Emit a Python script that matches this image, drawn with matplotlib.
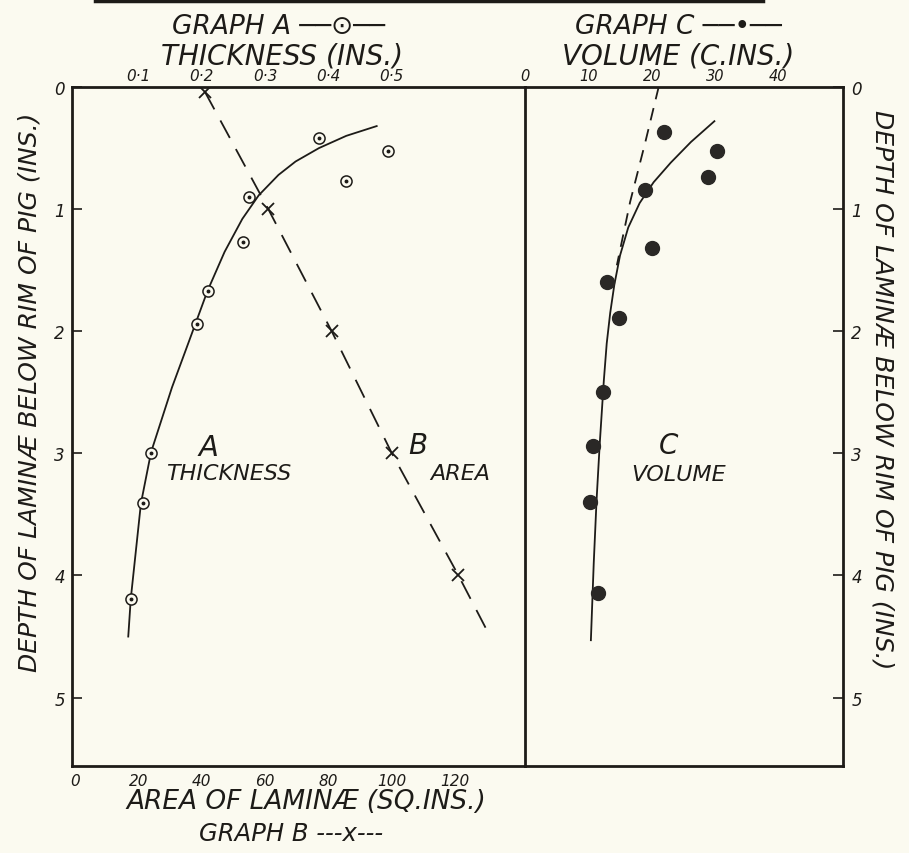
"""
Laminae of a pig: thickness (A), area (B) and volume (C) against depth
below the rim. Redrawn in the style of the original hand-lettered plate.
"""

import matplotlib
matplotlib.use("Agg")

import matplotlib.pyplot as plt
from matplotlib.lines import Line2D

W, H = 909, 854
PAPER = "#fbfaf0"
INK = "#1d1b18"
FONT = {"family": "DejaVu Sans", "style": "oblique"}

# ---------------------------------------------------------------------------
# Data
# ---------------------------------------------------------------------------

# Graph A: thickness of laminae (ins.)
a_thickness = [0.385, 0.494, 0.427, 0.274, 0.265, 0.210, 0.192, 0.120, 0.107, 0.088]
a_depth = [0.42, 0.52, 0.77, 0.90, 1.27, 1.67, 1.94, 3.00, 3.41, 4.19]

# hand-drawn smooth curve through A
a_curve_thickness = [0.476, 0.428, 0.385, 0.348, 0.321, 0.290, 0.264, 0.236,
                     0.209, 0.180, 0.153, 0.120, 0.104, 0.088, 0.084]
a_curve_depth = [0.32, 0.40, 0.50, 0.61, 0.72, 0.886, 1.08, 1.35,
                 1.67, 2.08, 2.46, 2.99, 3.41, 4.19, 4.50]

# Graph B: area of laminae (sq. ins.)
b_area = [41, 61, 81, 100, 121]
b_depth = [0.04, 1.0, 2.0, 3.0, 4.0]
b_line_area = [41, 61, 81, 100, 121, 131]
b_line_depth = [0.04, 1.0, 2.0, 3.0, 4.0, 4.5]

# Graph C: volume of laminae (c. ins.)
c_volume = [22.0, 30.3, 28.9, 19.0, 20.1, 13.0, 14.9, 12.3, 10.7, 10.3, 11.5]
c_depth = [0.37, 0.52, 0.74, 0.84, 1.32, 1.60, 1.89, 2.50, 2.94, 3.40, 4.14]

c_curve_volume = [29.9, 26.2, 23.0, 20.3, 18.1, 16.3, 15.0, 14.1,
                  13.45, 12.9, 12.45, 11.8, 11.3, 10.85, 10.4]
c_curve_depth = [0.28, 0.45, 0.62, 0.78, 0.95, 1.15, 1.38, 1.62,
                 1.85, 2.10, 2.40, 2.92, 3.38, 3.90, 4.53]

c_dash_volume = [21.1, 19.0, 16.6, 14.5]
c_dash_depth = [0.0, 0.45, 0.94, 1.46]

depth_ticks = [0, 1, 2, 3, 4, 5]
area_ticks = [0, 20, 40, 60, 80, 100, 120]
thickness_ticks = [0.1, 0.2, 0.3, 0.4, 0.5]
thickness_labels = ["0·1", "0·2", "0·3", "0·4", "0·5"]
volume_ticks = [0, 10, 20, 30, 40]


def fx(px):
    return px / W


def fy(py):
    return 1 - py / H


def style_frame(ax):
    ax.patch.set_visible(False)
    for sp in ax.spines.values():
        sp.set_linewidth(2.0)
        sp.set_color(INK)


def main():
    fig = plt.figure(figsize=(W / 100, H / 100), dpi=100, facecolor=PAPER)

    ax_l = fig.add_axes([fx(72), fy(767), fx(525) - fx(72), fy(88) - fy(767)])
    ax_r = fig.add_axes([fx(525), fy(767), fx(843) - fx(525), fy(88) - fy(767)],
                        sharey=ax_l)

    for ax in (ax_l, ax_r):
        style_frame(ax)
    ax_r.spines["left"].set_visible(False)

    ax_l.set_ylim(5.56, 0)
    ax_l.set_xlim(-0.95, 142)
    ax_r.set_xlim(0, 50.2)

    # --- Graph A: thickness (plotted on the area scale, 1 in = 200 sq in) --
    thick_to_area = 200.0
    ax_l.plot([t * thick_to_area for t in a_curve_thickness], a_curve_depth,
              color=INK, lw=1.3)
    ax_l.plot([t * thick_to_area for t in a_thickness], a_depth, "o",
              ms=8, mfc=PAPER, mec=INK, mew=1.1)
    ax_l.plot([t * thick_to_area for t in a_thickness], a_depth, "o",
              ms=1.8, color=INK)

    # --- Graph B: area ----------------------------------------------------
    ax_l.plot(b_line_area, b_line_depth, color=INK, lw=1.3, dashes=(11, 7))
    ax_l.plot(b_area, b_depth, "x", ms=9, mew=1.3, color=INK)

    # --- Graph C: volume --------------------------------------------------
    ax_r.plot(c_curve_volume, c_curve_depth, color=INK, lw=1.3)
    ax_r.plot(c_dash_volume, c_dash_depth, color=INK, lw=1.3, dashes=(7, 5))
    ax_r.plot(c_volume, c_depth, "o", ms=10, color="#2a2826")

    # --- Ticks ------------------------------------------------------------
    ax_l.set_yticks(depth_ticks)
    ax_l.set_yticklabels([str(d) for d in depth_ticks], fontsize=12, **FONT)
    ax_l.tick_params(axis="y", direction="in", length=7, width=1.2,
                     color=INK, pad=5, labelcolor=INK)

    ax_l.set_xticks(area_ticks)
    ax_l.set_xticklabels([str(a) for a in area_ticks], fontsize=11, **FONT)
    ax_l.tick_params(axis="x", length=0, pad=5, labelcolor=INK)

    top = ax_l.secondary_xaxis("top", functions=(lambda a: a / thick_to_area,
                                                 lambda t: t * thick_to_area))
    top.set_xticks(thickness_ticks)
    top.set_xticklabels(thickness_labels, fontsize=11, **FONT)
    top.tick_params(length=0, pad=3, labelcolor=INK)
    top.spines["top"].set_visible(False)

    ax_r.yaxis.tick_right()
    ax_r.tick_params(axis="y", which="both", direction="in", length=7,
                     width=1.2, color=INK, pad=6, labelcolor=INK,
                     labelleft=False, labelright=True, left=False, right=True)
    for lab in ax_r.get_yticklabels():
        lab.set_fontsize(12)
        lab.set_fontstyle("oblique")

    ax_r.xaxis.tick_top()
    ax_r.set_xticks(volume_ticks)
    ax_r.set_xticklabels([str(v) for v in volume_ticks], fontsize=10.5, **FONT)
    ax_r.tick_params(axis="x", length=0, pad=3, labelcolor=INK)

    # --- Labels inside the plots -----------------------------------------
    ax_l.text(42, 2.95, "A", fontsize=21, color=INK, ha="center", va="center", **FONT)
    ax_l.text(48.6, 3.16, "THICKNESS", fontsize=16, color=INK, ha="center", va="center", **FONT)
    ax_l.text(108, 2.93, "B", fontsize=20, color=INK, ha="center", va="center", **FONT)
    ax_l.text(121.5, 3.16, "AREA", fontsize=16, color=INK, ha="center", va="center", **FONT)
    ax_r.text(22.6, 2.93, "C", fontsize=20, color=INK, ha="center", va="center", **FONT)
    ax_r.text(24.2, 3.17, "VOLUME", fontsize=16, color=INK, ha="center", va="center", **FONT)

    # --- Headings and axis titles ----------------------------------------
    fig.text(fx(278), fy(27), "GRAPH A ──⊙──", fontsize=19, color=INK,
             ha="center", va="center", **FONT)
    fig.text(fx(282), fy(56), "THICKNESS (INS.)", fontsize=20, color=INK,
             ha="center", va="center", **FONT)
    fig.text(fx(678), fy(27), "GRAPH C ──•──", fontsize=19, color=INK,
             ha="center", va="center", **FONT)
    fig.text(fx(678), fy(56), "VOLUME (C.INS.)", fontsize=20, color=INK,
             ha="center", va="center", **FONT)
    fig.text(fx(306), fy(802), "AREA OF LAMINÆ (SQ.INS.)", fontsize=19,
             color=INK, ha="center", va="center", **FONT)
    fig.text(fx(291), fy(834), "GRAPH B ---x---", fontsize=17.5, color=INK,
             ha="center", va="center", **FONT)
    fig.text(fx(30), fy(392), "DEPTH OF LAMINÆ BELOW RIM OF PIG (INS.)",
             fontsize=18, color=INK, rotation=90, ha="center", va="center", **FONT)
    fig.text(fx(882), fy(390), "DEPTH OF LAMINÆ BELOW RIM OF PIG (INS.)",
             fontsize=18, color=INK, rotation=270, ha="center", va="center", **FONT)

    # rule left over from the page above
    fig.add_artist(Line2D([fx(95), fx(763)], [fy(1.5), fy(1.5)],
                          color=INK, lw=2.5))

    fig.savefig("out.png", dpi=100, facecolor=PAPER)
    plt.close(fig)


if __name__ == "__main__":
    main()
